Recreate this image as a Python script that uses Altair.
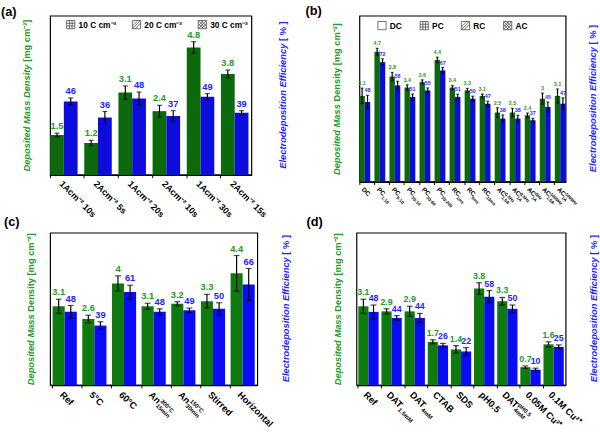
import altair as alt
import pandas as pd

FONT = "Liberation Sans"
GREEN = "#239b23"       # axis, tick labels and value labels (left scale)
GREEN_BAR = "#0f7b0f"
BLUE = "#1f1fff"        # axis, tick labels and value labels (right scale)
BLUE_BAR = "#0b0bf5"

# ---------------- (a) current density / time ----------------
a_cats = ["1Acm⁻² 10s", "2Acm⁻² 5s", "1Acm⁻² 20s", "2Acm⁻² 10s", "1Acm⁻² 30s", "2Acm⁻² 15s"]
a_main = a_cats
a_sub = [""] * 6
a_sup = [""] * 6
a_mass = [1.5, 1.2, 3.1, 2.4, 4.8, 3.8]
a_mass_err = [0.07, 0.10, 0.25, 0.22, 0.22, 0.15]
a_eff = [46, 36, 48, 37, 49, 39]
a_eff_err = [2.3, 3.8, 4.0, 3.3, 2.0, 1.3]
a_legend = ["10 C cm⁻²", "20 C cm⁻²", "30 C cm⁻²"]

# ---------------- (b) current waveform ----------------
b_cats = ["DC", "PC 1:10", "PC 5:10", "PC 20:10", "PC 20:60", "PC 20:200",
          "RC 1ms", "RC 5ms", "RC 10ms",
          "AC 0.5Hz 1.5A", "AC 0.5Hz 1A", "AC 5Hz 1A", "AC 1000Hz 1.5A", "AC 1000Hz 1A"]
b_main = ["DC", "PC", "PC", "PC", "PC", "PC", "RC", "RC", "RC", "AC", "AC", "AC", "AC", "AC"]
b_sub = ["", "1:10", "5:10", "20:10", "20:60", "20:200", "1ms", "5ms", "10ms",
         "1.5A", "1A", "1A", "1.5A", "1A"]
b_sup = [""] * 9 + ["0.5Hz", "0.5Hz", "5Hz", "1000Hz", "1000Hz"]
b_mass = [3.1, 4.7, 3.8, 3.4, 3.6, 4.4, 3.4, 3.3, 3.1, 2.5, 2.5, 2.4, 3, 3.1]
b_mass_err = [0.28, 0.12, 0.15, 0.10, 0.08, 0.10, 0.08, 0.07, 0.07, 0.17, 0.15, 0.08, 0.20, 0.25]
b_eff = [48, 72, 58, 51, 55, 67, 51, 50, 47, 38, 38, 37, 45, 47]
b_eff_err = [4.0, 2.0, 2.5, 1.8, 1.5, 1.8, 1.7, 1.5, 1.5, 2.2, 2.0, 1.2, 3.0, 3.5]
b_legend = ["DC", "PC", "RC", "AC"]

# ---------------- (c) bath / process conditions ----------------
c_cats = ["Ref", "5°C", "60°C", "An 300°C 15min", "An 150°C 30min", "Stirred", "Horizontal"]
c_main = ["Ref", "5°C", "60°C", "An", "An", "Stirred", "Horizontal"]
c_sub = ["", "", "", "15min", "30min", "", ""]
c_sup = ["", "", "", "300°C", "150°C", "", ""]
c_mass = [3.1, 2.6, 4, 3.1, 3.2, 3.3, 4.4]
c_mass_err = [0.28, 0.15, 0.30, 0.12, 0.08, 0.27, 0.70]
c_eff = [48, 39, 61, 48, 49, 50, 66]
c_eff_err = [4.2, 2.5, 4.5, 2.0, 1.5, 4.0, 10.5]

# ---------------- (d) additives / electrolyte ----------------
d_cats = ["Ref", "DAT 1.5mM", "DAT 4mM", "CTAB", "SDS", "pH0.5", "DAT pH0.5 4mM",
          "0.05M Cu²⁺", "0.1M Cu²⁺"]
d_main = ["Ref", "DAT", "DAT", "CTAB", "SDS", "pH0.5", "DAT", "0.05M Cu²⁺", "0.1M Cu²⁺"]
d_sub = ["", "1.5mM", "4mM", "", "", "", "4mM", "", ""]
d_sup = ["", "", "", "", "", "", "pH0.5", "", ""]
d_mass = [3.1, 2.9, 2.9, 1.7, 1.4, 3.8, 3.3, 0.7, 1.6]
d_mass_err = [0.28, 0.10, 0.20, 0.08, 0.15, 0.23, 0.15, 0.05, 0.10]
d_eff = [48, 44, 44, 26, 22, 58, 50, 10, 25]
d_eff_err = [4.5, 1.5, 3.0, 1.3, 2.5, 4.0, 2.5, 1.0, 1.3]

# legend glyphs: outline square plus hatching, in the -1..1 symbol box
BOX = "M-1,-1H1V1H-1Z"
GRID = BOX + "M-1,-0.33H1M-1,0.33H1M-0.33,-1V1M0.33,-1V1"
DIAG = BOX + "M-1,0.33L0.33,-1M-1,1L1,-1M-0.33,1L1,-0.33"
CROSS = DIAG + "M-1,-0.33L0.33,1M-1,-1L1,1M-0.33,-1L1,0.33"

# Arial-bold advance widths (1/1000 em) for splitting the two-style axis titles
ADV = {"D": 722, "e": 556, "p": 611, "o": 611, "s": 556, "i": 278, "t": 333, "d": 611,
       " ": 278, "M": 833, "a": 556, "n": 611, "y": 556, "[": 333, "m": 889, "g": 611,
       "c": 556, "]": 333, "⁻": 400, "²": 333, "E": 667, "l": 278, "r": 389, "f": 333,
       "%": 889}


def est(s, size):
    return sum(ADV.get(ch, 556) for ch in s) * size / 1000.0


def fmt(v):
    return f"{v:g}"


def table(cats, main, sub, sup, mass, merr, eff, eerr):
    return pd.DataFrame({
        "cat": cats, "main": main, "sub": sub, "sup": sup,
        "mass": mass,
        "m_lo": [m - e for m, e in zip(mass, merr)],
        "m_hi": [m + e for m, e in zip(mass, merr)],
        "eff": eff,
        "e_lo": [m - e for m, e in zip(eff, eerr)],
        "e_hi": [m + e for m, e in zip(eff, eerr)],
        "m_txt": [fmt(v) for v in mass],
        "e_txt": [fmt(v) for v in eff],
        "gm": "mass", "ge": "eff",
    })


def titles(h, lt_x, rt_x, mass_italic, fs=9.5):
    one = pd.DataFrame({"k": [0]})
    gap = est(" ", fs)
    l_it = "Deposited Mass Density" if mass_italic else "Deposited Mass"
    l_rm = "[mg cm⁻²]" if mass_italic else "Density [mg cm⁻²]"
    r_it = "Electrodeposition Efficiency"
    r_rm = "[ % ]"
    out = []
    for it, rm, x, col in ((l_it, l_rm, lt_x, GREEN), (r_it, r_rm, rt_x, BLUE)):
        tot = est(it, fs) + gap + est(rm, fs)
        split = h / 2 + tot / 2 - est(it, fs)
        out.append(alt.Chart(one).mark_text(
            text=it, angle=270, align="right", baseline="middle", font=FONT,
            fontStyle="italic", fontWeight="bold", fontSize=fs, color=col
        ).encode(x=alt.value(x), y=alt.value(split)))
        out.append(alt.Chart(one).mark_text(
            text=rm, angle=270, align="left", baseline="middle", font=FONT,
            fontWeight="bold", fontSize=fs, color=col, dx=gap
        ).encode(x=alt.value(x), y=alt.value(split)))
    return out


def panel(tag, df, *, w, h, pin, pout, align, cap, val_fs, lab_fs, sub_fs,
          sub_dx, sub_dy, sup_dy, lab_dy, tag_xy, lt_x, rt_x, mass_italic,
          g_bar=GREEN_BAR, b_bar=BLUE_BAR, legend=None, axis_fs=10):
    cats = list(df["cat"])
    x = alt.X("cat:N", title=None,
              scale=alt.Scale(domain=cats, paddingInner=pin, paddingOuter=pout, align=align),
              axis=alt.Axis(labels=False, title=None, domainColor="black", domainWidth=1.5,
                            tickColor="black", tickSize=3, tickWidth=1, bandPosition=0))
    xo_m = alt.XOffset("gm:N", scale=alt.Scale(domain=["mass", "eff"]))
    xo_e = alt.XOffset("ge:N", scale=alt.Scale(domain=["mass", "eff"]))

    y_m_scale = alt.Scale(domain=[0, 6], nice=False, zero=True)
    y_e_scale = alt.Scale(domain=[0, 100], nice=False, zero=True)
    ax_l = alt.Axis(orient="left", title=None, values=[0, 1, 2, 3, 4, 5, 6], format="d",
                    labelColor=GREEN, labelFont=FONT, labelFontWeight="bold",
                    labelFontSize=axis_fs, domainColor=GREEN, domainWidth=2,
                    tickColor=GREEN, tickWidth=1.5, tickSize=4, labelPadding=2, grid=False)
    ax_r = alt.Axis(orient="right", title=None, values=[0, 20, 40, 60, 80, 100], format="d",
                    labelColor=BLUE, labelFont=FONT, labelFontWeight="bold",
                    labelFontSize=axis_fs, domainColor=BLUE, domainWidth=2,
                    tickColor=BLUE, tickWidth=1.5, tickSize=4, labelPadding=2, grid=False)

    base = alt.Chart(df)

    def series(val, lo, hi, txt, xo, scale, axis, bar_col, txt_col):
        bars = base.mark_bar(color=bar_col).encode(
            x=x, xOffset=xo, y=alt.Y(f"{val}:Q", scale=scale, axis=axis))
        rule = base.mark_rule(color="black", strokeWidth=1.2).encode(
            x=x, xOffset=xo, y=alt.Y(f"{lo}:Q", scale=scale, axis=None), y2=f"{hi}:Q")
        cap_lo = base.mark_tick(color="black", thickness=1.2, size=cap).encode(
            x=x, xOffset=xo, y=alt.Y(f"{lo}:Q", scale=scale, axis=None))
        cap_hi = base.mark_tick(color="black", thickness=1.2, size=cap).encode(
            x=x, xOffset=xo, y=alt.Y(f"{hi}:Q", scale=scale, axis=None))
        lab = base.mark_text(color=txt_col, font=FONT, fontWeight="bold", fontSize=val_fs,
                             baseline="bottom", dy=-2).encode(
            x=x, xOffset=xo, y=alt.Y(f"{hi}:Q", scale=scale, axis=None), text=f"{txt}:N")
        return alt.layer(bars, rule, cap_lo, cap_hi, lab)

    green = series("mass", "m_lo", "m_hi", "m_txt", xo_m, y_m_scale, ax_l, g_bar, GREEN)
    blue = series("eff", "e_lo", "e_hi", "e_txt", xo_e, y_e_scale, ax_r, b_bar, BLUE)

    # category labels with sub/superscripts, rotated under the axis
    xl = base.mark_text(align="left", baseline="top", angle=45, font=FONT,
                        fontWeight="bold", fontSize=lab_fs, color="black").encode(
        x=x, y=alt.value(h + lab_dy), text="main:N")
    xs = base.mark_text(align="left", baseline="top", angle=45, font=FONT,
                        fontWeight="bold", fontSize=sub_fs, color="black",
                        dx=sub_dx, dy=sub_dy).encode(
        x=x, y=alt.value(h + lab_dy), text="sub:N")
    xp = base.mark_text(align="left", baseline="top", angle=45, font=FONT,
                        fontWeight="bold", fontSize=sub_fs, color="black",
                        dx=sub_dx, dy=sup_dy).encode(
        x=x, y=alt.value(h + lab_dy), text="sup:N")

    one = pd.DataFrame({"k": [0]})
    tag_txt = alt.Chart(one).mark_text(text=tag, align="left", baseline="top", font=FONT,
                                       fontWeight="bold", fontSize=13, color="black").encode(
        x=alt.value(tag_xy[0]), y=alt.value(tag_xy[1]))

    deco = [xl, xs, xp, tag_txt] + titles(h, lt_x, rt_x, mass_italic)

    if legend is not None:
        items, paths, lx, ly, cpad = legend
        leg = alt.Chart(pd.DataFrame({"item": items})).mark_point(
            filled=False, color="black").encode(
            shape=alt.Shape("item:N", scale=alt.Scale(domain=items, range=paths),
                            legend=alt.Legend(orient="none", legendX=lx, legendY=ly,
                                              direction="horizontal", title=None,
                                              labelFont=FONT, labelFontSize=8.5,
                                              labelFontWeight="bold", labelColor="black",
                                              symbolSize=70, symbolStrokeWidth=0.8,
                                              symbolStrokeColor="black",
                                              symbolFillColor="white",
                                              columnPadding=cpad, labelOffset=3))
        ).transform_filter("false")
        deco.append(leg)

    return alt.layer(green, blue, alt.layer(*deco)).resolve_scale(
        y="independent").properties(width=w, height=h)


pa = panel("(a)", table(a_cats, a_main, a_sub, a_sup, a_mass, a_mass_err, a_eff, a_eff_err),
           w=205, h=162, pin=0.195, pout=0.043, align=0, cap=5, val_fs=9.5, lab_fs=9,
           sub_fs=6, sub_dx=0, sub_dy=0, sup_dy=0, lab_dy=5, tag_xy=(-50, -10),
           lt_x=-23, rt_x=237, mass_italic=True, g_bar="#0c6a0c", b_bar="#0c0cdc",
           legend=(a_legend, [GRID, DIAG, CROSS], 16, 4, 14))

pb = panel("(b)", table(b_cats, b_main, b_sub, b_sup, b_mass, b_mass_err, b_eff, b_eff_err),
           w=210, h=169, pin=0.28, pout=0.0, align=0.5, cap=3, val_fs=5.5, lab_fs=6.5,
           sub_fs=4.5, sub_dx=9, sub_dy=3.5, sup_dy=-1.5, lab_dy=5, tag_xy=(-55, -11),
           lt_x=-23, rt_x=238, mass_italic=False, g_bar="#0c6a0c", b_bar="#0c0cdc",
           legend=(b_legend, [BOX, GRID, DIAG, CROSS], 18, 5, 16))

pc = panel("(c)", table(c_cats, c_main, c_sub, c_sup, c_mass, c_mass_err, c_eff, c_eff_err),
           w=211, h=155, pin=0.185, pout=0.086, align=0.5, cap=6, val_fs=9.5, lab_fs=9.5,
           sub_fs=6, sub_dx=13, sub_dy=5.5, sup_dy=-1, lab_dy=5, tag_xy=(-47, -17),
           lt_x=-19, rt_x=240, mass_italic=False)

pd_ = panel("(d)", table(d_cats, d_main, d_sub, d_sup, d_mass, d_mass_err, d_eff, d_eff_err),
            w=213, h=155, pin=0.123, pout=0.08, align=0.5, cap=6, val_fs=9, lab_fs=9.5,
            sub_fs=6, sub_dx=19, sub_dy=5.5, sup_dy=-1, lab_dy=5, tag_xy=(-51, -17),
            lt_x=-19, rt_x=242, mass_italic=False)

res = dict(shape="independent", xOffset="independent", x="independent")
row1 = alt.hconcat(pa, pb, spacing=16).resolve_scale(**res)
row2 = alt.hconcat(pc, pd_, spacing=14).resolve_scale(**res)
chart = alt.vconcat(row1, row2, spacing=-5).resolve_scale(**res).properties(
    padding={"left": 0, "top": 0, "right": 0, "bottom": 0}
).configure(font=FONT).configure_view(stroke="black", strokeWidth=1.2)

chart.save("out.html", embed_options={"renderer": "svg", "actions": False})
